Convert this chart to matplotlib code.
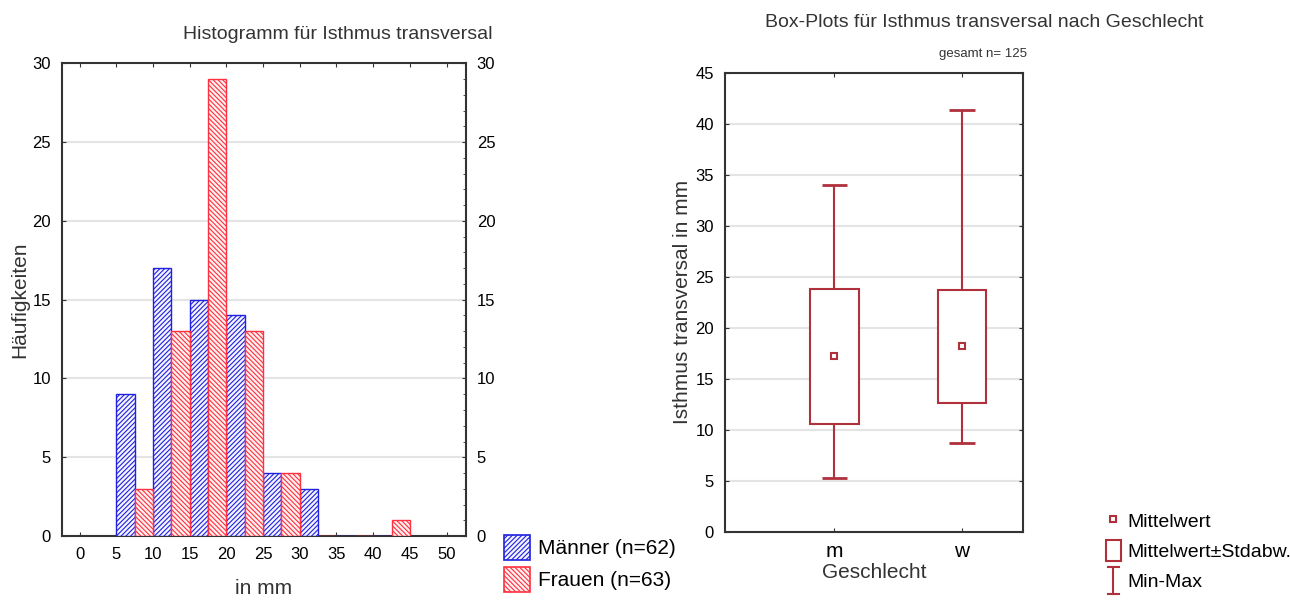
import matplotlib
matplotlib.use("Agg")
import matplotlib.pyplot as plt
from matplotlib.patches import Rectangle
from matplotlib.lines import Line2D
from matplotlib.legend_handler import HandlerBase
from matplotlib.ticker import MultipleLocator

plt.rcParams['font.family'] = ['Liberation Sans', 'DejaVu Sans']
plt.rcParams['hatch.linewidth'] = 0.8

# --- histogram data ---
bin_left = [5, 10, 15, 20, 25, 30, 35, 40]
maenner = [9, 17, 15, 14, 4, 3, 0, 0]
frauen = [3, 13, 29, 13, 4, 0, 0, 1]
hist_xticks = [0, 5, 10, 15, 20, 25, 30, 35, 40, 45, 50]

# --- box plot data (mean +- sd, min-max) ---
groups = ['m', 'w']
means = [17.2, 18.2]
sds = [6.6, 5.55]
mins = [5.3, 8.7]
maxs = [34.0, 41.4]

BLUE = '#2020e0'
RED = '#ff3040'
BOXC = '#b0303c'
GRID = '#e4e4e4'
SPINE = '#333333'

fig = plt.figure(figsize=(12.9, 6.03), dpi=100)
fig.patch.set_facecolor('white')

# ---------------- histogram ----------------
ax1 = fig.add_axes([0.048, 0.111, 0.313, 0.784])
w = 2.5
ax1.bar(bin_left, maenner, width=w, align='edge', facecolor='#f4f4ff',
        edgecolor=BLUE, hatch='///////', lw=1.0, zorder=3)
ax1.bar([b + w for b in bin_left], frauen, width=w, align='edge', facecolor='#fff0f0',
        edgecolor=RED, hatch='\\\\\\\\\\\\\\', lw=1.0, zorder=3)
ax1.set_xlim(-2.4, 52.6)
ax1.set_ylim(0, 30)
ax1.set_xticks(hist_xticks)
ax1.set_yticks(range(0, 31, 5))
ax1.yaxis.set_minor_locator(MultipleLocator(1))
ax1.grid(axis='y', color=GRID, lw=1.5, zorder=0)
ax1.set_axisbelow(True)
ax1.tick_params(direction='in', top=True, right=True, labelright=True,
                labelsize=12, length=3, color=SPINE, pad=8)
ax1.tick_params(which='minor', direction='in', left=False, right=True, length=2, color=SPINE)
for s in ax1.spines.values():
    s.set_color(SPINE)
    s.set_linewidth(1.5)
ax1.set_ylabel('Häufigkeiten', fontsize=15, color='#333333', labelpad=2)
ax1.set_xlabel('in mm', fontsize=15, color='#333333', labelpad=12)
fig.text(0.262, 0.935, 'Histogramm für Isthmus transversal', fontsize=14,
         ha='center', color='#333333')

h_m = Rectangle((0, 0), 1, 1, facecolor='#f4f4ff', edgecolor=BLUE, hatch='///////', lw=1.2)
h_f = Rectangle((0, 0), 1, 1, facecolor='#fff0f0', edgecolor=RED, hatch='\\\\\\\\\\\\\\', lw=1.2)
fig.legend([h_m, h_f], ['Männer (n=62)', 'Frauen (n=63)'], loc='lower left',
           bbox_to_anchor=(0.381, -0.002), frameon=False, fontsize=15,
           handlelength=1.25, handleheight=1.45, handletextpad=0.4, labelspacing=0.35,
           borderaxespad=0.2)

# ---------------- box plot ----------------
ax2 = fig.add_axes([0.562, 0.118, 0.231, 0.761])
pos = list(range(len(groups)))
lower = [m - s for m, s in zip(means, sds)]
ax2.vlines(pos, mins, lower, color=BOXC, lw=1.5, zorder=2)
ax2.vlines(pos, [m + s for m, s in zip(means, sds)], maxs, color=BOXC, lw=1.5, zorder=2)
ax2.hlines(mins, [p - 0.1 for p in pos], [p + 0.1 for p in pos], color=BOXC, lw=2, zorder=2)
ax2.hlines(maxs, [p - 0.1 for p in pos], [p + 0.1 for p in pos], color=BOXC, lw=2, zorder=2)
ax2.bar(pos, [2 * s for s in sds], bottom=lower, width=0.38, facecolor='white',
        edgecolor=BOXC, lw=1.5, zorder=3)
ax2.plot(pos, means, 's', mfc='white', mec=BOXC, mew=1.5, ms=4, zorder=4)
ax2.set_xlim(-0.857, 1.479)
ax2.set_ylim(0, 45)
ax2.set_xticks(pos)
ax2.set_xticklabels(groups)
ax2.set_yticks(range(0, 46, 5))
ax2.grid(axis='y', color=GRID, lw=1.5, zorder=0)
ax2.set_axisbelow(True)
ax2.tick_params(direction='in', top=True, right=True, labelsize=12, length=3,
                color=SPINE, pad=8)
ax2.tick_params(axis='x', labelsize=15, pad=7)
for s in ax2.spines.values():
    s.set_color(SPINE)
    s.set_linewidth(1.5)
ax2.set_ylabel('Isthmus transversal in mm', fontsize=15, color='#333333', labelpad=2)
ax2.set_xlabel('Geschlecht', fontsize=15, color='#333333', labelpad=2)
fig.text(0.763, 0.955, 'Box-Plots für Isthmus transversal nach Geschlecht', fontsize=14,
         ha='center', color='#333333')
fig.text(0.762, 0.905, 'gesamt n= 125', fontsize=9.5, ha='center', color='#333333')


class HandlerMinMax(HandlerBase):
    def create_artists(self, legend, orig_handle, xdescent, ydescent, width, height,
                       fontsize, trans):
        cx = -xdescent + width / 2
        y0 = -ydescent - 2
        y1 = -ydescent + height + 2
        cw = width * 0.35
        return [Line2D([cx, cx], [y0, y1], color=BOXC, lw=1.5, transform=trans),
                Line2D([cx - cw, cx + cw], [y0, y0], color=BOXC, lw=1.5, transform=trans),
                Line2D([cx - cw, cx + cw], [y1, y1], color=BOXC, lw=1.5, transform=trans)]


h_mean = Line2D([], [], ls='none', marker='s', mfc='white', mec=BOXC, mew=1.5, ms=4)
h_box = Rectangle((0, 0), 1, 1, facecolor='white', edgecolor=BOXC, lw=1.5)
h_mm = Line2D([], [], color=BOXC)
fig.legend([h_mean, h_box, h_mm], ['Mittelwert', 'Mittelwert±Stdabw.', 'Min-Max'],
           handler_map={h_mm: HandlerMinMax()}, loc='lower left',
           bbox_to_anchor=(0.848, 0.0), frameon=False, fontsize=14,
           handlelength=0.8, handleheight=1.3, handletextpad=0.3, labelspacing=0.45,
           borderaxespad=0.2)

fig.savefig('out.png', dpi=100)
